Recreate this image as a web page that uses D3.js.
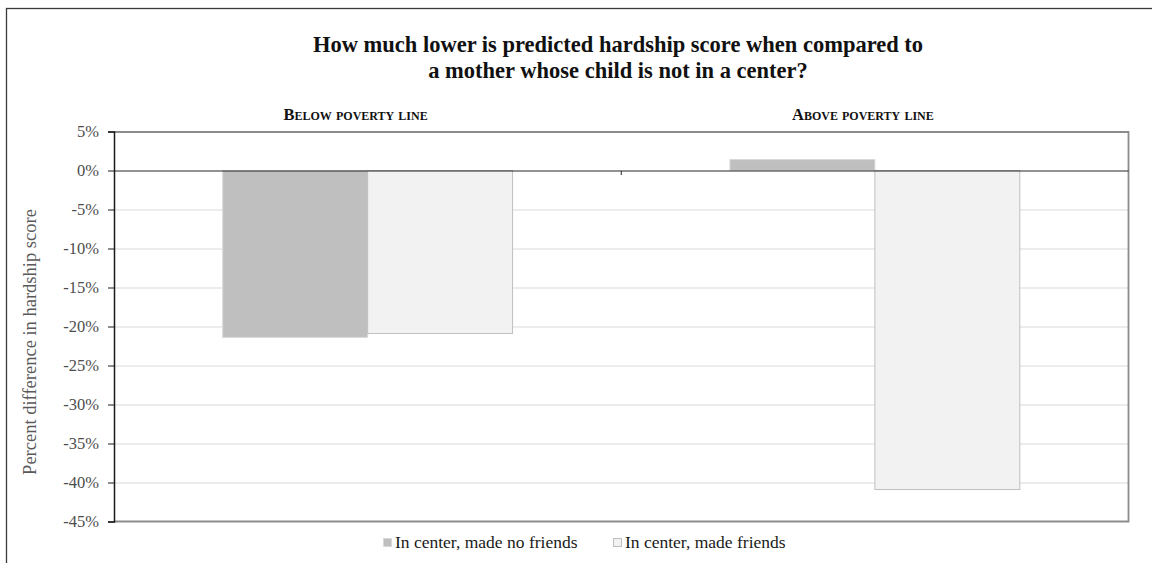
<!DOCTYPE html>
<html>
<head>
<meta charset="utf-8">
<script src="https://cdn.jsdelivr.net/npm/d3@7"></script>
<style>
  body { margin: 0; background: #fff; }
  svg text { font-family: "Liberation Serif", "DejaVu Serif", serif; }
</style>
</head>
<body>
<svg id="chart"></svg>
<script>
// data
const groups = ["Below poverty line", "Above poverty line"];
const seriesNames = ["In center, made no friends", "In center, made friends"];
const noFriends = [-21.4, 1.4];
const madeFriends = [-20.9, -40.9];
const yTicks = [5, 0, -5, -10, -15, -20, -25, -30, -35, -40, -45];

const fills = ["#bfbfbf", "#f2f2f2"];
const strokes = ["#d9d9d9", "#bfbfbf"];

const width = 1152, height = 563;
const margin = { top: 131.5, right: 23.5, bottom: 41.5, left: 114 };
const innerW = width - margin.left - margin.right;
const innerH = height - margin.top - margin.bottom;

const svg = d3.select("#chart").attr("width", width).attr("height", height);

// outer chart border (right and bottom run past the window)
svg.append("rect")
  .attr("x", 6.5).attr("y", 8.5)
  .attr("width", 1200).attr("height", 600)
  .attr("fill", "none").attr("stroke", "#3a3a3a").attr("stroke-width", 1.3);

// title
svg.append("text")
  .attr("x", 618).attr("y", 52)
  .attr("text-anchor", "middle")
  .style("font-size", "22.5px").style("font-weight", "bold").attr("fill", "#111")
  .selectAll("tspan")
  .data(["How much lower is predicted hardship score when compared to",
         "a mother whose child is not in a center?"])
  .join("tspan")
  .attr("x", 618)
  .attr("dy", (d, i) => i === 0 ? 0 : 26)
  .text(d => d);

const chart = svg.append("g")
  .attr("transform", `translate(${margin.left},${margin.top})`);

// scales
const yScale = d3.scaleLinear().domain([-45, 5]).range([innerH, 0]);
const xScale = d3.scaleBand().domain(groups).range([0, innerW]).padding(0);
// excel-ish gap width 150%: bar = band / (2 + 1.5)
const barW = xScale.bandwidth() / 3.5;
const xInner = d3.scaleBand().domain(seriesNames)
  .range([xScale.bandwidth() / 2 - barW, xScale.bandwidth() / 2 + barW]);

// gridlines
chart.append("g")
  .selectAll("line")
  .data(yTicks.filter(d => d !== 0 && d !== 5 && d !== -45))
  .join("line")
  .attr("x1", 0).attr("x2", innerW)
  .attr("y1", d => Math.round(yScale(d)) + 0.5)
  .attr("y2", d => Math.round(yScale(d)) + 0.5)
  .attr("stroke", "#d9d9d9").attr("stroke-width", 1);

// plot area border (top, right, bottom)
chart.append("path")
  .attr("d", `M0,0.5H${innerW}V${innerH}H0`)
  .attr("fill", "none").attr("stroke", "#8c8c8c").attr("stroke-width", 1.8);

// bars
const rows = groups.map((g, i) => [
  { group: g, series: seriesNames[0], value: noFriends[i], k: 0 },
  { group: g, series: seriesNames[1], value: madeFriends[i], k: 1 }
]);

chart.append("g")
  .selectAll("g")
  .data(rows)
  .join("g")
  .attr("transform", d => `translate(${xScale(d[0].group)},0)`)
  .selectAll("rect")
  .data(d => d)
  .join("rect")
  .attr("x", d => xInner(d.series))
  .attr("width", xInner.bandwidth())
  .attr("y", d => yScale(Math.max(0, d.value)))
  .attr("height", d => Math.abs(yScale(d.value) - yScale(0)))
  .attr("fill", d => fills[d.k])
  .attr("stroke", d => strokes[d.k])
  .attr("stroke-width", 1);

// zero line with category tick marks
const zeroY = Math.round(yScale(0)) + 0.5;
chart.append("line")
  .attr("x1", 0).attr("x2", innerW)
  .attr("y1", zeroY).attr("y2", zeroY)
  .attr("stroke", "#262626").attr("stroke-width", 1.2);
chart.append("g")
  .selectAll("line")
  .data(groups.slice(1))
  .join("line")
  .attr("x1", d => xScale(d)).attr("x2", d => xScale(d))
  .attr("y1", zeroY).attr("y2", zeroY + 4)
  .attr("stroke", "#262626").attr("stroke-width", 1);

// group headings in small caps
chart.append("g")
  .selectAll("text")
  .data(groups)
  .join("text")
  .attr("x", d => xScale(d) + xScale.bandwidth() / 2 - 12)
  .attr("y", -12)
  .attr("text-anchor", "middle")
  .style("font-size", "16.5px").style("font-weight", "bold")
  .style("font-variant", "small-caps")
  .attr("fill", "#111")
  .text(d => d);

// y axis
const yAxis = d3.axisLeft(yScale)
  .tickValues(yTicks)
  .tickSize(6)
  .tickPadding(9)
  .tickFormat(d => d + "%");

const yAxisG = chart.append("g").call(yAxis);
yAxisG.select(".domain").attr("stroke", "#1a1a1a").attr("stroke-width", 1.5);
yAxisG.selectAll(".tick line").attr("stroke", "#1a1a1a");
yAxisG.selectAll(".tick text")
  .attr("fill", "#4d4d4d")
  .style("font-size", "16.5px")
  .style("font-family", "'Liberation Serif', serif");

// y axis title
svg.append("text")
  .attr("transform", `translate(36,342) rotate(-90)`)
  .attr("text-anchor", "middle")
  .style("font-size", "18.5px")
  .attr("fill", "#595959")
  .text("Percent difference in hardship score");

// legend
const legendX = [383, 613];
const legend = svg.append("g")
  .selectAll("g")
  .data(seriesNames)
  .join("g")
  .attr("transform", (d, i) => `translate(${legendX[i]},538)`);
legend.append("rect")
  .attr("x", 0.5).attr("y", 0.5)
  .attr("width", 8).attr("height", 8)
  .attr("fill", (d, i) => fills[i])
  .attr("stroke", (d, i) => strokes[i]);
legend.append("text")
  .attr("x", 12).attr("y", 10)
  .style("font-size", "17.5px")
  .attr("fill", "#1a1a1a")
  .text(d => d);
</script>
</body>
</html>
